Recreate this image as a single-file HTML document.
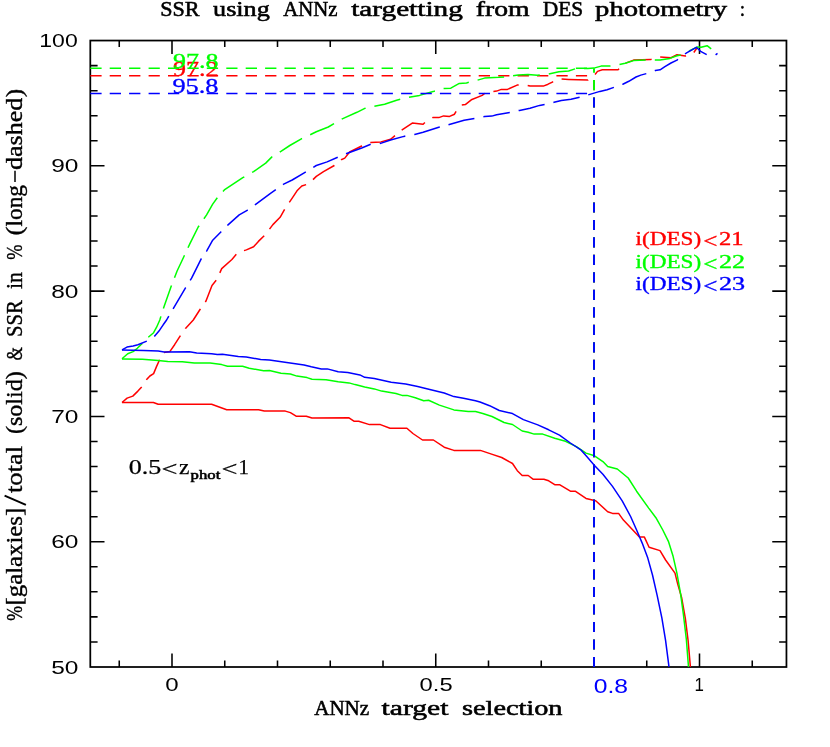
<!DOCTYPE html>
<html><head><meta charset="utf-8"><title>SSR using ANNz targetting from DES photometry</title>
<style>html,body{margin:0;padding:0;background:#fff;}svg{display:block;}text{font-family:"Liberation Serif",serif;}.sans{font-family:"Liberation Sans",sans-serif;}.b{font-weight:normal;stroke:#000;}.bw{stroke-width:0.55px;}</style></head><body><div style="width:830px;height:747px;will-change:transform;transform:translateZ(0)">
<svg width="830" height="747" viewBox="0 0 830 747">
<rect x="0" y="0" width="830" height="747" fill="#ffffff"/>
<g fill="none" stroke="#000" stroke-width="1.55">
<rect x="90.3" y="40.55" width="696.15" height="626.45" stroke-width="1.75"/>
<path d="M119.25,667.0 v-6.5 M119.25,40.55 v6.5 M172.00,667.0 v-13.5 M172.00,40.55 v13.5 M224.75,667.0 v-6.5 M224.75,40.55 v6.5 M277.50,667.0 v-6.5 M277.50,40.55 v6.5 M330.25,667.0 v-6.5 M330.25,40.55 v6.5 M383.00,667.0 v-6.5 M383.00,40.55 v6.5 M435.75,667.0 v-13.5 M435.75,40.55 v13.5 M488.50,667.0 v-6.5 M488.50,40.55 v6.5 M541.25,667.0 v-6.5 M541.25,40.55 v6.5 M594.00,667.0 v-6.5 M594.00,40.55 v6.5 M646.75,667.0 v-6.5 M646.75,40.55 v6.5 M699.50,667.0 v-13.5 M699.50,40.55 v13.5 M752.25,667.0 v-6.5 M752.25,40.55 v6.5 M90.3,641.94 h7.3 M786.45,641.94 h-7.3 M90.3,616.88 h7.3 M786.45,616.88 h-7.3 M90.3,591.83 h7.3 M786.45,591.83 h-7.3 M90.3,566.77 h7.3 M786.45,566.77 h-7.3 M90.3,541.71 h14.2 M786.45,541.71 h-14.2 M90.3,516.65 h7.3 M786.45,516.65 h-7.3 M90.3,491.59 h7.3 M786.45,491.59 h-7.3 M90.3,466.54 h7.3 M786.45,466.54 h-7.3 M90.3,441.48 h7.3 M786.45,441.48 h-7.3 M90.3,416.42 h14.2 M786.45,416.42 h-14.2 M90.3,391.36 h7.3 M786.45,391.36 h-7.3 M90.3,366.30 h7.3 M786.45,366.30 h-7.3 M90.3,341.25 h7.3 M786.45,341.25 h-7.3 M90.3,316.19 h7.3 M786.45,316.19 h-7.3 M90.3,291.13 h14.2 M786.45,291.13 h-14.2 M90.3,266.07 h7.3 M786.45,266.07 h-7.3 M90.3,241.01 h7.3 M786.45,241.01 h-7.3 M90.3,215.96 h7.3 M786.45,215.96 h-7.3 M90.3,190.90 h7.3 M786.45,190.90 h-7.3 M90.3,165.84 h14.2 M786.45,165.84 h-14.2 M90.3,140.78 h7.3 M786.45,140.78 h-7.3 M90.3,115.72 h7.3 M786.45,115.72 h-7.3 M90.3,90.67 h7.3 M786.45,90.67 h-7.3 M90.3,65.61 h7.3 M786.45,65.61 h-7.3"/>
</g>
<g fill="none" stroke-width="1.5" stroke-linejoin="round">
<path d="M122.0,402.5 L153.4,402.5 L158.2,404.3 L211.6,404.3 L226.7,409.7 L258.6,409.7 L264.3,411.1 L285.3,411.1 L290.4,412.6 L296.1,416.2 L306.3,416.2 L312.0,418.0 L349.0,417.8 L353.9,421.2 L358.7,421.2 L369.5,424.6 L380.4,424.6 L390.0,428.2 L406.9,428.2 L412.9,433.5 L422.5,440.0 L433.4,440.0 L444.2,447.2 L453.9,450.4 L480.4,450.4 L490.8,453.9 L501.7,457.5 L512.5,463.5 L517.3,470.7 L522.2,475.5 L528.2,475.5 L533.0,479.2 L543.9,479.2 L548.7,480.8 L554.7,484.7 L559.5,484.7 L570.4,491.2 L575.2,491.2 L586.0,498.4 L595.7,500.8 L607.7,511.7 L612.5,513.4 L618.6,513.4 L623.4,520.1 L632.8,530.0 L639.4,537.1 L644.4,537.1 L649.1,547.3 L660.0,550.6 L665.6,560.0 L675.0,573.1 L677.8,584.4 L681.6,597.5 L685.3,618.1 L688.1,640.6 L690.4,666.9" stroke="#ff0000"/>
<path d="M122.0,402.5 L127.1,398.1 L132.8,396.1 L137.9,391.1 L141.7,386.9 L141.7,386.9 M146.4,379.9 L146.6,379.6 L149.9,376.0 L153.6,373.6 L156.6,366.4 L159.6,359.7 M163.9,352.5 L169.8,351.6 L174.6,344.7 L180.4,335.6 M185.3,328.7 L185.5,328.4 L193.3,320.0 L200.0,309.5 L200.4,308.9 M205.3,302.0 L206.0,301.0 L212.0,285.4 L216.2,280.3 M219.8,272.9 L221.7,268.6 L231.9,259.5 L236.3,254.3 M244.0,250.6 L246.4,249.9 L253.6,246.7 L258.4,241.4 L264.2,235.7 M269.5,229.1 L272.9,224.6 L280.1,217.3 L284.6,209.4 M289.3,202.4 L292.2,198.1 L297.0,190.8 L301.8,186.0 L306.1,184.6 M313.0,179.6 L316.3,176.4 L323.5,171.6 L334.3,165.5 L334.4,165.4 M341.1,159.9 L341.2,159.8 L344.8,158.1 L349.6,152.0 L361.7,146.0 L362.1,145.8 M370.3,142.4 L381.0,141.9 L390.6,139.3 L395.0,135.6 M401.7,130.2 L412.3,123.1 L423.1,124.3 L424.9,122.5 M432.4,117.9 L432.8,117.6 L438.8,117.6 L443.6,115.9 L449.6,116.4 L454.5,114.2 L456.1,111.3 M461.8,105.1 L465.3,104.6 L471.3,99.8 L482.2,95.4 L484.6,93.5 L484.7,93.5 M493.4,91.5 L496.6,91.1 L501.4,89.4 L507.5,89.4 L517.1,85.1 L518.7,85.1 M527.7,85.6 L530.0,86.1 L543.3,86.1 L548.1,84.2 L552.9,81.8 L553.2,81.7 M561.6,79.0 L568.6,79.4 L587.8,80.1 L588.2,79.8 M595.0,74.5 L597.5,71.4 L602.3,69.8 L618.0,69.8 L619.1,68.7 M625.6,63.1 L633.6,60.1 L650.5,59.6 L651.6,59.3 M660.2,57.1 L671.0,57.7 L677.0,54.8 L685.4,56.0 L686.0,55.8 M693.8,52.5 L697.5,47.3" stroke="#ff0000"/>
<path d="M90.3,75.7 L101.6,75.7 M109.7,75.7 L121.0,75.7 M129.1,75.7 L140.4,75.7 M148.6,75.7 L159.8,75.7 M168.0,75.7 L179.3,75.7 M187.4,75.7 L198.7,75.7 M206.8,75.7 L218.1,75.7 M226.3,75.7 L237.5,75.7 M245.7,75.7 L257.0,75.7 M265.1,75.7 L276.4,75.7 M284.5,75.7 L295.8,75.7 M303.9,75.7 L315.2,75.7 M323.4,75.7 L334.6,75.7 M342.8,75.7 L354.1,75.7 M362.2,75.7 L373.5,75.7 M381.6,75.7 L392.9,75.7 M401.1,75.7 L412.3,75.7 M420.5,75.7 L431.8,75.7 M439.9,75.7 L451.2,75.7 M459.3,75.7 L470.6,75.7 M478.7,75.7 L490.0,75.7 M498.2,75.7 L509.4,75.7 M517.6,75.7 L528.9,75.7 M537.0,75.7 L548.3,75.7 M556.4,75.7 L567.7,75.7 M575.9,75.7 L587.1,75.7" stroke="#ff0000"/>
<path d="M594.0,667.0 L594.0,656.9 M594.0,649.5 L594.0,639.4 M594.0,632.0 L594.0,621.9 M594.0,614.6 L594.0,604.4 M594.0,597.1 L594.0,586.9 M594.0,579.6 L594.0,569.5 M594.0,562.1 L594.0,552.0 M594.0,544.6 L594.0,534.5 M594.0,527.2 L594.0,517.0 M594.0,509.7 L594.0,499.5 M594.0,492.2 L594.0,482.0 M594.0,474.7 L594.0,464.6 M594.0,457.2 L594.0,447.1 M594.0,439.8 L594.0,429.6 M594.0,422.3 L594.0,412.1 M594.0,404.8 L594.0,394.6 M594.0,387.3 L594.0,377.2 M594.0,369.8 L594.0,359.7 M594.0,352.4 L594.0,342.2 M594.0,334.9 L594.0,324.7 M594.0,317.4 L594.0,307.3 M594.0,299.9 L594.0,289.8 M594.0,282.4 L594.0,272.3 M594.0,265.0 L594.0,254.8 M594.0,247.5 L594.0,237.3 M594.0,230.0 L594.0,219.9 M594.0,212.5 L594.0,202.4 M594.0,195.0 L594.0,184.9 M594.0,177.6 L594.0,167.4 M594.0,160.1 L594.0,149.9 M594.0,142.6 L594.0,132.5 M594.0,125.1 L594.0,115.0 M594.0,107.6 L594.0,97.5 M594.0,90.2 L594.0,80.0" stroke="#ff0000" stroke-width="1.9"/>
</g>
<text x="173.0" y="75.8" font-size="20" fill="#ff0000" text-anchor="start" textLength="45.5" lengthAdjust="spacingAndGlyphs" stroke="#ff0000" stroke-width="0.3">97.2</text>
<g fill="none" stroke-width="1.5" stroke-linejoin="round">
<path d="M122.0,358.9 L142.5,359.3 L158.2,360.5 L167.8,361.4 L182.3,361.7 L194.3,362.9 L210.1,363.1 L221.7,364.6 L227.5,366.3 L242.6,366.3 L249.2,368.2 L263.6,370.8 L269.4,370.6 L281.0,373.3 L290.4,374.0 L296.9,376.1 L307.0,377.6 L312.0,379.3 L326.1,379.8 L338.2,381.7 L349.0,382.9 L355.1,384.6 L364.7,387.0 L374.3,388.9 L381.6,391.1 L396.0,393.5 L402.0,395.4 L406.9,395.4 L415.3,397.8 L423.7,400.7 L428.6,400.2 L439.4,405.1 L453.9,409.9 L468.3,411.6 L475.5,411.6 L482.8,413.5 L492.0,416.5 L504.1,422.5 L512.5,424.5 L522.2,431.0 L528.2,432.2 L534.2,434.1 L542.7,434.1 L554.7,438.2 L565.5,441.3 L576.4,446.6 L586.0,453.1 L594.5,455.8 L602.9,461.6 L607.7,466.6 L617.3,469.0 L628.2,478.0 L636.6,491.2 L648.7,508.1 L655.9,517.7 L662.8,530.0 L668.4,541.3 L673.1,556.3 L676.9,573.1 L680.6,593.8 L683.4,614.4 L686.3,638.8 L688.5,666.9" stroke="#00ff00"/>
<path d="M122.0,358.8 L127.7,353.7 L133.1,351.6 L137.3,348.3 L140.9,344.7 L142.4,343.5 M148.3,337.3 L153.6,332.7 L156.6,327.2 L159.8,320.0 L160.9,316.4 M163.4,308.5 L163.9,307.1 L171.1,286.6 L171.5,285.5 M174.5,277.7 L177.1,271.0 L183.7,257.0 L184.5,255.3 M188.0,247.7 L189.8,243.9 L198.2,227.0 L199.1,225.7 M203.9,218.7 L206.6,214.9 L212.7,204.1 L217.3,197.7 M223.0,191.4 L224.7,189.6 L242.8,177.6 L244.3,176.8 M252.1,172.4 L253.6,171.6 L265.7,163.1 L271.7,157.1 L272.3,156.7 M279.8,152.0 L281.3,151.1 L289.8,145.5 L301.8,138.6 L302.1,138.5 M310.2,134.7 L316.3,131.8 L328.3,127.0 L334.0,123.7 M341.7,119.2 L342.8,118.6 L356.9,112.3 L365.3,108.2 L365.6,108.1 M374.4,106.2 L384.6,104.3 L396.6,100.2 L400.2,99.3 M409.0,97.3 L419.5,95.4 L434.0,91.3 L434.9,91.0 M443.6,88.6 L450.8,88.2 L459.3,83.4 L466.5,82.9 L468.8,82.3 M477.6,80.1 L484.6,78.1 L499.0,77.3 L504.1,76.9 M513.1,75.8 L518.3,74.9 L528.0,74.5 L537.2,75.3 L539.8,75.0 M548.8,73.9 L558.9,71.7 L568.6,71.0 L575.0,68.9 M584.0,68.6 L587.8,68.6 L593.9,68.1 L601.1,66.1 L609.5,66.1 L610.5,66.0 M619.5,64.6 L625.2,63.3 L633.6,60.6 L645.7,60.1 M654.8,60.1 L660.1,60.1 L669.8,58.4 L677.0,55.8 L680.8,54.9 M688.9,51.3 L690.2,50.5 L697.5,46.9 L701.1,47.3 L707.1,45.7 L711.2,48.8" stroke="#00ff00"/>
<path d="M90.3,68.2 L101.6,68.2 M109.7,68.2 L121.0,68.2 M129.1,68.2 L140.4,68.2 M148.6,68.2 L159.8,68.2 M168.0,68.2 L179.3,68.2 M187.4,68.2 L198.7,68.2 M206.8,68.2 L218.1,68.2 M226.3,68.2 L237.5,68.2 M245.7,68.2 L257.0,68.2 M265.1,68.2 L276.4,68.2 M284.5,68.2 L295.8,68.2 M303.9,68.2 L315.2,68.2 M323.4,68.2 L334.6,68.2 M342.8,68.2 L354.1,68.2 M362.2,68.2 L373.5,68.2 M381.6,68.2 L392.9,68.2 M401.1,68.2 L412.3,68.2 M420.5,68.2 L431.8,68.2 M439.9,68.2 L451.2,68.2 M459.3,68.2 L470.6,68.2 M478.7,68.2 L490.0,68.2 M498.2,68.2 L509.4,68.2 M517.6,68.2 L528.9,68.2 M537.0,68.2 L548.3,68.2 M556.4,68.2 L567.7,68.2 M575.9,68.2 L587.1,68.2" stroke="#00ff00"/>
<path d="M594.0,667.0 L594.0,656.9 M594.0,649.5 L594.0,639.4 M594.0,632.0 L594.0,621.9 M594.0,614.6 L594.0,604.4 M594.0,597.1 L594.0,586.9 M594.0,579.6 L594.0,569.5 M594.0,562.1 L594.0,552.0 M594.0,544.6 L594.0,534.5 M594.0,527.2 L594.0,517.0 M594.0,509.7 L594.0,499.5 M594.0,492.2 L594.0,482.0 M594.0,474.7 L594.0,464.6 M594.0,457.2 L594.0,447.1 M594.0,439.8 L594.0,429.6 M594.0,422.3 L594.0,412.1 M594.0,404.8 L594.0,394.6 M594.0,387.3 L594.0,377.2 M594.0,369.8 L594.0,359.7 M594.0,352.4 L594.0,342.2 M594.0,334.9 L594.0,324.7 M594.0,317.4 L594.0,307.3 M594.0,299.9 L594.0,289.8 M594.0,282.4 L594.0,272.3 M594.0,265.0 L594.0,254.8 M594.0,247.5 L594.0,237.3 M594.0,230.0 L594.0,219.9 M594.0,212.5 L594.0,202.4 M594.0,195.0 L594.0,184.9 M594.0,177.6 L594.0,167.4 M594.0,160.1 L594.0,149.9 M594.0,142.6 L594.0,132.5 M594.0,125.1 L594.0,115.0 M594.0,107.6 L594.0,97.5 M594.0,90.2 L594.0,80.0 M594.0,72.7 L594.0,68.2" stroke="#00ff00" stroke-width="1.9"/>
</g>
<text x="173.0" y="68.3" font-size="20" fill="#00ff00" text-anchor="start" textLength="45.5" lengthAdjust="spacingAndGlyphs" stroke="#00ff00" stroke-width="0.3">97.8</text>
<g fill="none" stroke-width="1.5" stroke-linejoin="round">
<path d="M122.0,350.0 L143.7,350.6 L158.2,351.1 L164.2,352.0 L189.5,351.8 L196.7,353.0 L211.6,353.7 L217.3,354.5 L222.4,354.2 L238.3,356.6 L246.3,356.9 L260.7,359.5 L269.4,360.0 L286.7,362.4 L304.1,364.9 L311.3,366.7 L321.3,368.9 L327.3,368.9 L338.2,371.8 L347.8,372.5 L359.9,374.9 L364.7,377.3 L374.3,378.6 L391.2,382.2 L405.7,384.1 L417.7,386.5 L429.8,389.4 L444.2,393.0 L453.9,396.6 L463.5,398.3 L475.5,400.7 L480.0,402.0 L489.6,405.7 L499.3,410.5 L512.5,413.6 L523.4,419.6 L537.8,424.9 L548.7,429.8 L559.5,435.1 L570.4,443.0 L581.2,450.2 L587.2,457.0 L594.5,465.4 L602.9,474.3 L612.5,486.4 L622.2,500.8 L630.6,516.5 L636.6,530.0 L642.2,543.1 L647.8,558.1 L652.5,575.0 L657.2,595.6 L661.9,618.1 L665.6,640.6 L669.0,666.9" stroke="#0000ff"/>
<path d="M122.0,349.9 L127.0,347.1 L133.1,345.9 L137.9,344.7 L146.8,341.1 M154.3,336.5 L159.6,330.2 L163.2,324.8 L166.6,320.0 L168.8,316.1 M173.1,308.9 L185.5,287.8 L185.7,287.5 M190.2,280.4 L191.6,278.2 L201.2,258.9 L201.5,258.5 M206.3,251.5 L206.6,251.1 L212.7,240.2 L221.1,231.8 L221.3,231.6 M227.4,225.5 L228.3,224.6 L239.2,214.9 L247.6,210.1 L247.8,210.0 M254.9,204.9 L256.0,204.1 L270.5,193.3 L275.8,189.6 M283.0,184.6 L283.7,184.1 L292.2,180.0 L304.2,172.8 L305.8,171.8 M313.3,167.3 L316.3,165.5 L327.1,161.9 L337.7,157.2 M346.0,153.7 L346.0,153.7 L361.7,148.0 L370.7,144.3 M379.8,143.6 L379.8,143.6 L390.6,140.0 L403.9,136.4 L405.3,136.1 M414.3,134.6 L414.7,134.5 L423.1,132.3 L438.8,127.2 L439.8,127.0 M448.5,124.8 L464.1,120.2 L474.4,118.4 M483.4,116.8 L484.6,116.6 L491.8,116.1 L496.6,114.7 L509.8,112.5 M518.6,110.6 L519.5,110.4 L530.0,108.3 L539.6,105.4 L544.6,104.4 M553.4,102.5 L554.1,102.3 L561.3,100.4 L571.0,99.2 L579.6,97.2 M588.3,94.8 L589.0,94.6 L599.9,91.4 L607.1,89.8 L613.9,87.4 M622.3,84.4 L622.8,84.2 L628.8,81.3 L636.0,77.0 L640.8,75.1 L646.3,73.6 M654.8,70.7 L655.3,70.5 L660.1,69.8 L664.9,66.6 L671.0,63.0 L677.0,60.1 L677.9,59.2 M685.0,54.0 L686.6,52.9 L696.3,47.3 L701.1,51.7 L706.7,54.6 M715.6,54.9 L717.5,53.4" stroke="#0000ff"/>
<path d="M90.3,93.5 L101.6,93.5 M109.7,93.5 L121.0,93.5 M129.1,93.5 L140.4,93.5 M148.6,93.5 L159.8,93.5 M168.0,93.5 L179.3,93.5 M187.4,93.5 L198.7,93.5 M206.8,93.5 L218.1,93.5 M226.3,93.5 L237.5,93.5 M245.7,93.5 L257.0,93.5 M265.1,93.5 L276.4,93.5 M284.5,93.5 L295.8,93.5 M303.9,93.5 L315.2,93.5 M323.4,93.5 L334.6,93.5 M342.8,93.5 L354.1,93.5 M362.2,93.5 L373.5,93.5 M381.6,93.5 L392.9,93.5 M401.1,93.5 L412.3,93.5 M420.5,93.5 L431.8,93.5 M439.9,93.5 L451.2,93.5 M459.3,93.5 L470.6,93.5 M478.7,93.5 L490.0,93.5 M498.2,93.5 L509.4,93.5 M517.6,93.5 L528.9,93.5 M537.0,93.5 L548.3,93.5 M556.4,93.5 L567.7,93.5 M575.9,93.5 L587.1,93.5" stroke="#0000ff"/>
<path d="M594.0,667.0 L594.0,656.9 M594.0,649.5 L594.0,639.4 M594.0,632.0 L594.0,621.9 M594.0,614.6 L594.0,604.4 M594.0,597.1 L594.0,586.9 M594.0,579.6 L594.0,569.5 M594.0,562.1 L594.0,552.0 M594.0,544.6 L594.0,534.5 M594.0,527.2 L594.0,517.0 M594.0,509.7 L594.0,499.5 M594.0,492.2 L594.0,482.0 M594.0,474.7 L594.0,464.6 M594.0,457.2 L594.0,447.1 M594.0,439.8 L594.0,429.6 M594.0,422.3 L594.0,412.1 M594.0,404.8 L594.0,394.6 M594.0,387.3 L594.0,377.2 M594.0,369.8 L594.0,359.7 M594.0,352.4 L594.0,342.2 M594.0,334.9 L594.0,324.7 M594.0,317.4 L594.0,307.3 M594.0,299.9 L594.0,289.8 M594.0,282.4 L594.0,272.3 M594.0,265.0 L594.0,254.8 M594.0,247.5 L594.0,237.3 M594.0,230.0 L594.0,219.9 M594.0,212.5 L594.0,202.4 M594.0,195.0 L594.0,184.9 M594.0,177.6 L594.0,167.4 M594.0,160.1 L594.0,149.9 M594.0,142.6 L594.0,132.5 M594.0,125.1 L594.0,115.0 M594.0,107.6 L594.0,97.5" stroke="#0000ff" stroke-width="1.9"/>
</g>
<text x="51.2" y="673.5" font-size="19" class="sans" fill="#000" text-anchor="start" textLength="27.2" lengthAdjust="spacingAndGlyphs">50</text>
<text x="51.2" y="548.2" font-size="19" class="sans" fill="#000" text-anchor="start" textLength="27.2" lengthAdjust="spacingAndGlyphs">60</text>
<text x="51.2" y="422.9" font-size="19" class="sans" fill="#000" text-anchor="start" textLength="27.2" lengthAdjust="spacingAndGlyphs">70</text>
<text x="51.2" y="297.6" font-size="19" class="sans" fill="#000" text-anchor="start" textLength="27.2" lengthAdjust="spacingAndGlyphs">80</text>
<text x="51.2" y="172.3" font-size="19" class="sans" fill="#000" text-anchor="start" textLength="27.2" lengthAdjust="spacingAndGlyphs">90</text>
<text x="39.3" y="47.0" font-size="19" class="sans" fill="#000" text-anchor="start" textLength="38.4" lengthAdjust="spacingAndGlyphs">100</text>
<text x="165.3" y="691.3" font-size="19" class="sans" fill="#000" text-anchor="start" textLength="13.4" lengthAdjust="spacingAndGlyphs">0</text>
<text x="419.6" y="691.3" font-size="19" class="sans" fill="#000" text-anchor="start" textLength="33.0" lengthAdjust="spacingAndGlyphs">0.5</text>
<text x="694.6" y="691.3" font-size="19" class="sans" fill="#000" text-anchor="start" textLength="9.4" lengthAdjust="spacingAndGlyphs">1</text>
<text x="593.7" y="692.8" font-size="19.5" class="sans" fill="#0000ff" text-anchor="start" textLength="34.3" lengthAdjust="spacingAndGlyphs">0.8</text>
<text x="160.2" y="15.6" font-size="21.5" class="b bw" fill="#000" text-anchor="start" textLength="39.4" lengthAdjust="spacingAndGlyphs">SSR</text>
<text x="213.1" y="15.6" font-size="21.5" class="b bw" fill="#000" text-anchor="start" textLength="56.7" lengthAdjust="spacingAndGlyphs">using</text>
<text x="283.3" y="15.6" font-size="21.5" class="b bw" fill="#000" text-anchor="start" textLength="54.2" lengthAdjust="spacingAndGlyphs">ANNz</text>
<text x="351.2" y="15.6" font-size="21.5" class="b bw" fill="#000" text-anchor="start" textLength="111.6" lengthAdjust="spacingAndGlyphs">targetting</text>
<text x="475.8" y="15.6" font-size="21.5" class="b bw" fill="#000" text-anchor="start" textLength="53.7" lengthAdjust="spacingAndGlyphs">from</text>
<text x="542.8" y="15.6" font-size="21.5" class="b bw" fill="#000" text-anchor="start" textLength="40.4" lengthAdjust="spacingAndGlyphs">DES</text>
<text x="595.1" y="15.6" font-size="21.5" class="b bw" fill="#000" text-anchor="start" textLength="132.1" lengthAdjust="spacingAndGlyphs">photometry</text>
<text x="739.7" y="15.6" font-size="21.5" class="b bw" fill="#000" text-anchor="start" textLength="5.3" lengthAdjust="spacingAndGlyphs">:</text>
<text x="314.2" y="714.9" font-size="21.5" class="b bw" fill="#000" text-anchor="start" textLength="55.0" lengthAdjust="spacingAndGlyphs">ANNz</text>
<text x="381.6" y="714.9" font-size="21.5" class="b bw" fill="#000" text-anchor="start" textLength="66.8" lengthAdjust="spacingAndGlyphs">target</text>
<text x="462.0" y="714.9" font-size="21.5" class="b bw" fill="#000" text-anchor="start" textLength="100.5" lengthAdjust="spacingAndGlyphs">selection</text>
<g transform="translate(22,620.1) rotate(-90)" style="stroke-width:0.38px">
<text x="-0.6" y="0.0" font-size="24" class="b" fill="#000" text-anchor="start" textLength="14.8" lengthAdjust="spacingAndGlyphs">%</text>
<text x="14.6" y="0.0" font-size="24" class="b" fill="#000" text-anchor="start" textLength="97.8" lengthAdjust="spacingAndGlyphs">[galaxies]</text>
<text x="127.1" y="0.0" font-size="24" class="b" fill="#000" text-anchor="start" textLength="47.0" lengthAdjust="spacingAndGlyphs">total</text>
<text x="186.0" y="0.0" font-size="24" class="b" fill="#000" text-anchor="start" textLength="62.9" lengthAdjust="spacingAndGlyphs">(solid)</text>
<text x="259.6" y="0.0" font-size="24" class="b" fill="#000" text-anchor="start" textLength="13.4" lengthAdjust="spacingAndGlyphs">&amp;</text>
<text x="283.2" y="0.0" font-size="24" class="b" fill="#000" text-anchor="start" textLength="36.7" lengthAdjust="spacingAndGlyphs">SSR</text>
<text x="331.1" y="0.0" font-size="24" class="b" fill="#000" text-anchor="start" textLength="16.9" lengthAdjust="spacingAndGlyphs">in</text>
<text x="360.4" y="0.0" font-size="24" class="b" fill="#000" text-anchor="start" textLength="15.2" lengthAdjust="spacingAndGlyphs">%</text>
<text x="384.6" y="0.0" font-size="24" class="b" fill="#000" text-anchor="start" textLength="8.8" lengthAdjust="spacingAndGlyphs">(</text>
<text x="393.5" y="0.0" font-size="24" class="b" fill="#000" text-anchor="start" textLength="41.7" lengthAdjust="spacingAndGlyphs">long</text>
<text x="450.2" y="0.0" font-size="24" class="b" fill="#000" text-anchor="start" textLength="72.1" lengthAdjust="spacingAndGlyphs">dashed</text>
<text x="522.9" y="0.0" font-size="24" class="b" fill="#000" text-anchor="start" textLength="8.5" lengthAdjust="spacingAndGlyphs">)</text>
<path d="M115.3,3.9 L124.5,-17.4" stroke="#000" stroke-width="2" fill="none"/>
<path d="M438.1,-7 L449.4,-7" stroke="#000" stroke-width="1.5" fill="none"/>
</g>
<text x="172.4" y="93.4" font-size="20" fill="#0000ff" text-anchor="start" textLength="46.1" lengthAdjust="spacingAndGlyphs" stroke="#0000ff" stroke-width="0.3">95.8</text>
<text x="635.6" y="245.3" font-size="19.5" fill="#ff0000" text-anchor="start" textLength="65.6" lengthAdjust="spacingAndGlyphs" stroke="#ff0000" stroke-width="0.35">i(DES)</text>
<text x="703.3" y="247.6" font-size="21" fill="#ff0000" text-anchor="start" textLength="14.2" lengthAdjust="spacingAndGlyphs" stroke="#ff0000" stroke-width="0.35">&lt;</text>
<text x="719.0" y="245.3" font-size="19.5" fill="#ff0000" text-anchor="start" textLength="24.6" lengthAdjust="spacingAndGlyphs" stroke="#ff0000" stroke-width="0.35">21</text>
<text x="635.6" y="268.4" font-size="19.5" fill="#00ff00" text-anchor="start" textLength="65.6" lengthAdjust="spacingAndGlyphs" stroke="#00ff00" stroke-width="0.35">i(DES)</text>
<text x="703.3" y="270.7" font-size="21" fill="#00ff00" text-anchor="start" textLength="14.2" lengthAdjust="spacingAndGlyphs" stroke="#00ff00" stroke-width="0.35">&lt;</text>
<text x="719.0" y="268.4" font-size="19.5" fill="#00ff00" text-anchor="start" textLength="26.2" lengthAdjust="spacingAndGlyphs" stroke="#00ff00" stroke-width="0.35">22</text>
<text x="635.6" y="290.2" font-size="19.5" fill="#0000ff" text-anchor="start" textLength="65.6" lengthAdjust="spacingAndGlyphs" stroke="#0000ff" stroke-width="0.35">i(DES)</text>
<text x="703.3" y="292.5" font-size="21" fill="#0000ff" text-anchor="start" textLength="14.2" lengthAdjust="spacingAndGlyphs" stroke="#0000ff" stroke-width="0.35">&lt;</text>
<text x="719.0" y="290.2" font-size="19.5" fill="#0000ff" text-anchor="start" textLength="26.2" lengthAdjust="spacingAndGlyphs" stroke="#0000ff" stroke-width="0.35">23</text>
<text x="128.7" y="473.7" font-size="20" fill="#000" text-anchor="start" textLength="32.6" lengthAdjust="spacingAndGlyphs" stroke="#000" stroke-width="0.25">0.5</text>
<text x="161.6" y="475.6" font-size="21" fill="#000" text-anchor="start" textLength="16.0" lengthAdjust="spacingAndGlyphs" stroke="#000" stroke-width="0.25">&lt;</text>
<text x="179.0" y="473.7" font-size="20" fill="#000" text-anchor="start" textLength="10.4" lengthAdjust="spacingAndGlyphs" stroke="#000" stroke-width="0.25">z</text>
<text x="190.6" y="478.6" font-size="13" class="b bw" fill="#000" text-anchor="start" textLength="29.7" lengthAdjust="spacingAndGlyphs">phot</text>
<text x="221.4" y="475.6" font-size="21" fill="#000" text-anchor="start" textLength="16.0" lengthAdjust="spacingAndGlyphs" stroke="#000" stroke-width="0.25">&lt;</text>
<text x="238.4" y="473.7" font-size="20" fill="#000" text-anchor="start" textLength="10.4" lengthAdjust="spacingAndGlyphs" stroke="#000" stroke-width="0.25">1</text>
</svg></div></body></html>
